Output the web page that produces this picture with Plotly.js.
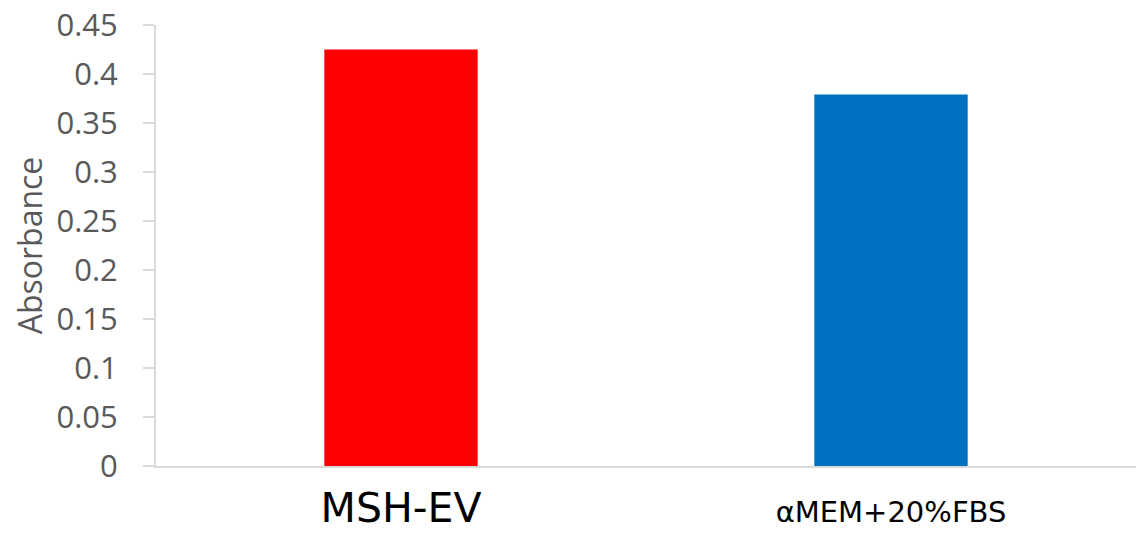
<!DOCTYPE html>
<html>
<head>
<meta charset="utf-8">
<script src="https://cdn.plot.ly/plotly-3.0.1.min.js"></script>
<style>html,body{margin:0;padding:0;background:#fff;}#chart{width:1136px;height:534px;}</style>
</head>
<body>
<div id="chart"></div>
<script>
const categories = ["MSH-EV", "αMEM+20%FBS"];
const tickLabels = ["<span style=\"font-size:41px\">MSH-EV</span>", "<span style=\"font-size:29px\">αMEM+20%FBS</span>"];
const absorbance = [0.425, 0.379];
const barColors = ["#FF0000", "#0070C0"];

const trace = {
  type: "bar",
  x: categories,
  y: absorbance,
  marker: {color: barColors},
  hoverinfo: "x+y"
};

const layout = {
  width: 1136,
  height: 534,
  margin: {l: 156, r: 0, t: 25, b: 68},
  paper_bgcolor: "#ffffff",
  plot_bgcolor: "#ffffff",
  bargap: 0.687,
  showlegend: false,
  font: {family: "Open Sans, sans-serif", color: "#595959"},
  xaxis: {
    type: "category",
    tickvals: categories,
    ticktext: tickLabels,
    tickfont: {family: "DejaVu Sans, Verdana, sans-serif", color: "#000000", size: 30},
    showline: true,
    linecolor: "#d9d9d9",
    linewidth: 2,
    ticks: "",
    showgrid: false,
    zeroline: false,
    ticklabelstandoff: 18
  },
  yaxis: {
    range: [0, 0.45],
    dtick: 0.05,
    tick0: 0,
    showline: true,
    linecolor: "#d9d9d9",
    linewidth: 2,
    ticks: "outside",
    ticklen: 11,
    tickwidth: 2,
    tickcolor: "#d9d9d9",
    showgrid: false,
    zeroline: false,
    tickfont: {family: "Open Sans, sans-serif", color: "#595959", size: 31},
    ticklabelstandoff: 19,
    title: {text: "Absorbance", font: {family: "Open Sans, sans-serif", color: "#595959", size: 32}, standoff: 4}
  }
};

Plotly.newPlot("chart", [trace], layout, {displayModeBar: false, staticPlot: true});
</script>
</body>
</html>
